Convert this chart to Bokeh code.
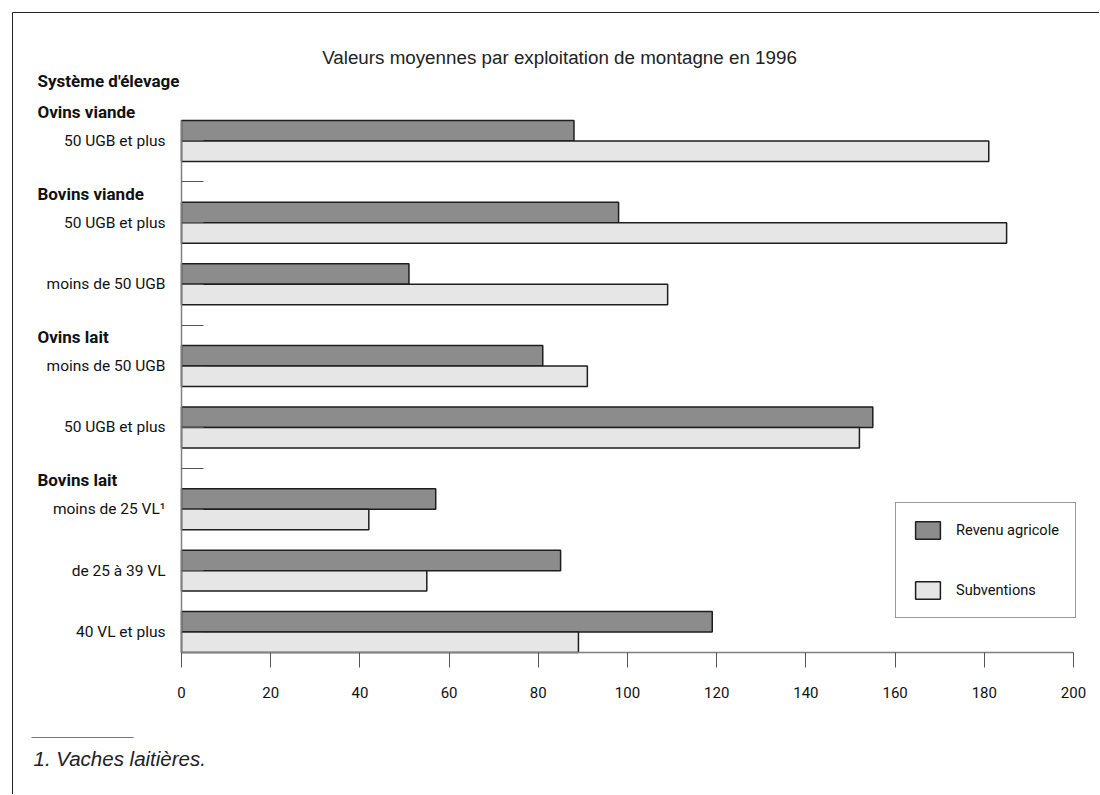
from bokeh.plotting import figure
from bokeh.models import Range1d, FixedTicker, Legend, LegendItem
from bokeh.core.properties import value
from bokeh.embed import file_html
from bokeh.resources import INLINE

# ---------------- data ----------------
title_text = "Valeurs moyennes par exploitation de montagne en 1996"
axis_title = "Système d'élevage"
groups = ["Ovins viande", "Bovins viande", "Ovins lait", "Bovins lait"]
group_categories = [
    ["50 UGB et plus"],
    ["50 UGB et plus", "moins de 50 UGB"],
    ["moins de 50 UGB", "50 UGB et plus"],
    ["moins de 25 VL¹", "de 25 à 39 VL", "40 VL et plus"],
]
series_names = ["Revenu agricole", "Subventions"]
revenu = [88, 98, 51, 81, 155, 57, 85, 119]
subventions = [181, 185, 109, 91, 152, 42, 55, 89]
x_ticks = [0, 20, 40, 60, 80, 100, 120, 140, 160, 180, 200]
footnote = "1. Vaches laitières."

# ---------------- layout (slots of one bar height) ----------------
cursor = 0
cat_top, sep_units, group_start = [], [], []
for gi, cats in enumerate(group_categories):
    if gi > 0:
        sep_units.append(cursor + 1)
        cursor += 2
    group_start.append(cursor)
    for ci, _ in enumerate(cats):
        if ci > 0:
            cursor += 1
        cat_top.append(cursor)
        cursor += 2
TOTAL = cursor

categories = [c for cats in group_categories for c in cats]
dark_y = [TOTAL - (t + 0.5) for t in cat_top]
light_y = [TOTAL - (t + 1.5) for t in cat_top]
label_ticks = [TOTAL - (t + 1) for t in cat_top]
sep_ticks = [TOTAL - s for s in sep_units]

# canvas geometry: plot area spans the whole canvas, axes are pinned at 0
W, H = 1099, 794
XPX = 4.46           # pixels per x unit
YPX = 532 / TOTAL    # pixels per slot
X0_PX, Y0_PX = 181, 652   # canvas position of data (0, 0)
x_range = Range1d(-X0_PX / XPX, (W - X0_PX) / XPX)
y_range = Range1d(-(H - Y0_PX) / YPX, Y0_PX / YPX)

def cx(px):
    return (px - X0_PX) / XPX

def cy(px):
    return (Y0_PX - px) / YPX

NARROW = "Roboto"
SANS = "Liberation Sans"
DARK = "#8c8c8c"
LIGHT = "#e6e6e6"
EDGE = "#1e1e1e"
TXT = "#111111"

p = figure(width=W, height=H, x_range=x_range, y_range=y_range,
           output_backend="svg", toolbar_location=None,
           min_border_left=0, min_border_right=0,
           min_border_top=0, min_border_bottom=0)
p.title.visible = False
p.outline_line_color = None
p.xgrid.visible = False
p.ygrid.visible = False
p.background_fill_color = "white"
p.border_fill_color = "white"

# page frame (top and left edges)
p.segment(x0=[cx(12), cx(12)], y0=[cy(12), cy(12)],
          x1=[cx(W + 5), cx(12)], y1=[cy(12), cy(H + 5)],
          line_color="#222222", line_width=1)

# x axis
xa = p.xaxis[0]
xa.fixed_location = 0
xa.bounds = (0, 200)
xa.ticker = FixedTicker(ticks=x_ticks)
xa.major_tick_out = 15
xa.major_tick_in = 0
xa.minor_tick_out = 0
xa.minor_tick_in = 0
xa.axis_line_color = "#808080"
xa.axis_line_width = 1.5
xa.major_tick_line_color = "#555555"
xa.major_label_text_font = NARROW
xa.major_label_text_font_size = "15px"
xa.major_label_text_color = TXT
xa.major_label_standoff = 19

# y axis with category labels
ya = p.yaxis[0]
ya.fixed_location = 0
ya.bounds = (0, TOTAL)
ya.ticker = FixedTicker(ticks=sorted(label_ticks + sep_ticks))
overrides = {int(t): "" for t in sep_ticks}
for t, name in zip(label_ticks, categories):
    overrides[int(t)] = name
ya.major_label_overrides = overrides
ya.major_tick_in = 22
ya.major_tick_out = 0
ya.minor_tick_in = 0
ya.minor_tick_out = 0
ya.axis_line_color = "#808080"
ya.axis_line_width = 1.5
ya.major_tick_line_color = "#555555"
ya.major_label_standoff = 16
ya.major_label_text_font = NARROW
ya.major_label_text_font_size = "15.5px"
ya.major_label_text_color = TXT

# bars
r_dark = p.hbar(y=dark_y, height=1, left=0, right=revenu,
                fill_color=DARK, line_color=EDGE, line_width=1.5)
r_light = p.hbar(y=light_y, height=1, left=0, right=subventions,
                 fill_color=LIGHT, line_color=EDGE, line_width=1.5)

legend = Legend(items=[LegendItem(label=series_names[0], renderers=[r_dark]),
                       LegendItem(label=series_names[1], renderers=[r_light])],
                location=(895, H - 618), padding=16, spacing=38, margin=0,
                glyph_width=31, glyph_height=22, label_standoff=13,
                label_text_font=NARROW, label_text_font_size="14.6px",
                label_text_color=TXT,
                border_line_color="#333333", border_line_width=1,
                background_fill_color="white", background_fill_alpha=1)
p.add_layout(legend)

# headers
p.text(x=[cx(37)], y=[cy(80)], text=[axis_title],
       text_font=value(NARROW), text_font_style="bold", text_font_size=value("17px"),
       text_baseline="middle", text_align="left", text_color=TXT)
p.text(x=[cx(37)] * len(groups), y=[TOTAL - (s - 0.42) for s in group_start], text=groups,
       text_font=value(NARROW), text_font_style="bold", text_font_size=value("17px"),
       text_baseline="middle", text_align="left", text_color=TXT)

# title
p.text(x=[cx(559)], y=[cy(57)], text=[title_text],
       text_font=value(SANS), text_font_size=value("18.8px"),
       text_baseline="middle", text_align="center", text_color="#222222")

# footnote
p.segment(x0=[cx(31)], x1=[cx(133)], y0=[cy(737)], y1=[cy(737)],
          line_color="#777777", line_width=1)
p.text(x=[cx(33)], y=[cy(758)], text=[footnote],
       text_font=value(SANS), text_font_style="italic", text_font_size=value("20.5px"),
       text_baseline="middle", text_align="left", text_color="#222222")

open("out.html", "w").write(file_html(p, INLINE))
